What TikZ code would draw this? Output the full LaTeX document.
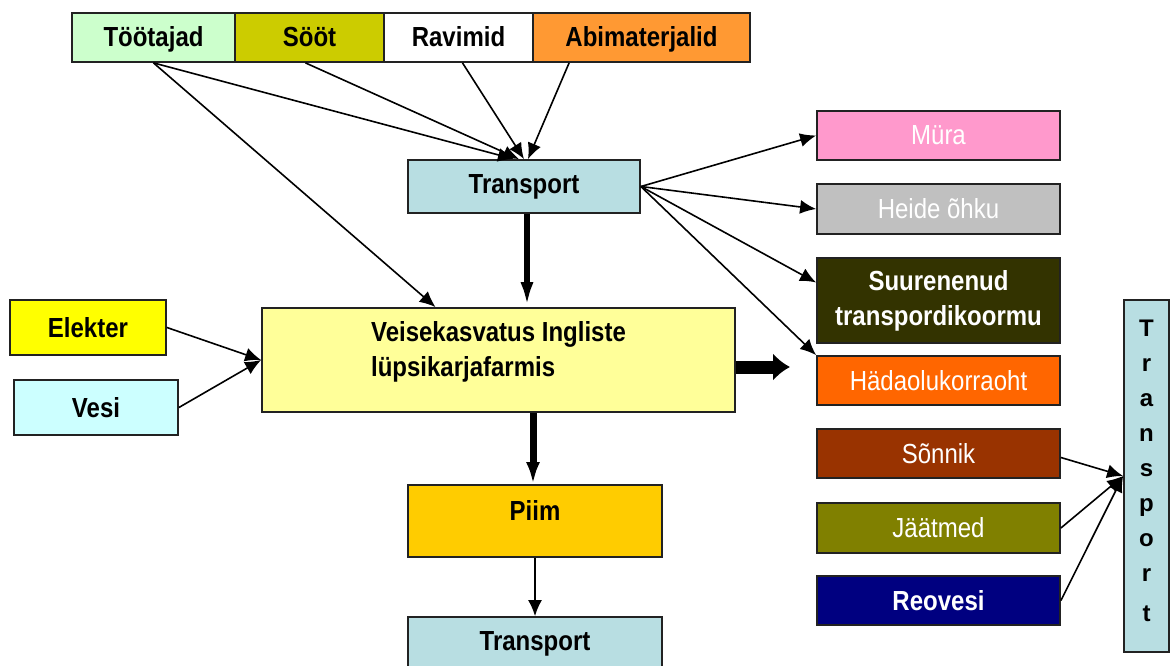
\documentclass[tikz,border=0pt]{standalone}
\usepackage{fontspec}
\setmainfont{Liberation Sans}
\usepackage{graphicx}
\usetikzlibrary{arrows.meta,calc}
\newcommand{\vs}[1]{\scalebox{1}[1.15]{#1}}
\definecolor{bordergray}{HTML}{222222}
\definecolor{tooc}{HTML}{CCFFCC}
\definecolor{sootc}{HTML}{CCCC00}
\definecolor{abic}{HTML}{FF9933}
\definecolor{trc}{HTML}{B8DEE2}
\definecolor{mainc}{HTML}{FFFF99}
\definecolor{elec}{HTML}{FFFF00}
\definecolor{vesic}{HTML}{CCFFFF}
\definecolor{piimc}{HTML}{FFCC00}
\definecolor{murac}{HTML}{FF99CC}
\definecolor{heidec}{HTML}{C0C0C0}
\definecolor{surc}{HTML}{333300}
\definecolor{hadc}{HTML}{FF6600}
\definecolor{sonc}{HTML}{993300}
\definecolor{jaac}{HTML}{808000}
\definecolor{reoc}{HTML}{000080}
\begin{document}
\begin{tikzpicture}[x=1pt,y=-1pt,
  box/.style={draw=bordergray,line width=1.8pt,inner sep=0pt,font=\fontsize{24}{35}\selectfont\bfseries},
  toprow/.style={box,minimum height=49pt,text height=20pt,text depth=1pt},
  lite/.style={box,font=\fontsize{24}{35}\selectfont,text=white},
  boldlite/.style={box,text=white},
  conn/.style={line width=1.6pt,-{Latex[length=16pt,width=14pt]}},
  ]
\useasboundingbox (0,0) rectangle (1170,666);
% top row
\node[toprow,fill=tooc,minimum width=163pt] (too) at (153.5,37.5) {\vs{Töötajad}};
\node[toprow,fill=sootc,minimum width=149pt] (soot) at (309.5,37.5) {\vs{Sööt}};
\node[toprow,fill=white,minimum width=149pt] (rav) at (458.5,37.5) {\vs{Ravimid}};
\node[toprow,fill=abic,minimum width=217pt] (abi) at (641.5,37.5) {\vs{Abimaterjalid}};
% transport top
\node[box,fill=trc,minimum width=232pt,minimum height=53pt] (tr1) at (524,186.5) {\vs{Transport}};
% main
\node[box,fill=mainc,minimum width=473pt,minimum height=104pt,align=left,text depth=22pt] (main) at (498.5,360) {\vs{Veisekasvatus Ingliste}\\\vs{lüpsikarjafarmis}};
% left
\node[box,fill=elec,minimum width=156pt,minimum height=55pt] (ele) at (88,327.5) {\vs{Elekter}};
\node[box,fill=vesic,minimum width=164pt,minimum height=55pt] (vesi) at (96,407.5) {\vs{Vesi}};
% bottom
\node[box,fill=piimc,minimum width=254pt,minimum height=72pt,text depth=22pt] (piim) at (535,521) {\vs{Piim}};
\node[box,fill=trc,minimum width=254pt,minimum height=53pt] (tr2) at (535,643.5) {\vs{Transport}};
% right column
\node[lite,fill=murac,minimum width=243pt,minimum height=49pt] (mura) at (938.5,135.5) {\vs{Müra}};
\node[lite,fill=heidec,minimum width=243pt,minimum height=50pt] (heide) at (938.5,209) {\vs{Heide õhku}};
\node[boldlite,fill=surc,minimum width=243pt,minimum height=85pt,align=center] (sur) at (938.5,300.5) {\vs{Suurenenud}\\\vs{transpordikoormu}};
\node[lite,fill=hadc,minimum width=243pt,minimum height=49pt] (had) at (938.5,380.5) {\vs{Hädaolukorraoht}};
\node[lite,fill=sonc,minimum width=243pt,minimum height=49pt] (son) at (938.5,453.5) {\vs{Sõnnik}};
\node[lite,fill=jaac,minimum width=243pt,minimum height=50pt] (jaa) at (938.5,528) {\vs{Jäätmed}};
\node[boldlite,fill=reoc,minimum width=243pt,minimum height=49pt] (reo) at (938.5,600.5) {\vs{Reovesi}};
% vertical transport
\node[box,fill=trc,minimum width=45pt,minimum height=352pt,align=center,text depth=10pt] (vt) at (1146.5,476) {T\\r\\a\\n\\s\\p\\o\\r\\[5pt]t};
% connectors
\draw[conn] (too.south) -- ($(tr1.north)+(-10,0)$);
\draw[conn] (too.south) -- ($(main.north)+(-63,0)$);
\draw[conn] ($(soot.south)+(-4,0)$) -- ($(tr1.north)+(-5,0)$);
\draw[conn] ($(rav.south)+(4,0)$) -- (tr1.north);
\draw[conn] ($(abi.south west)+(37,0)$) -- ($(tr1.north)+(4,0)$);
\draw[line width=5.5pt,-{Latex[length=25pt,width=13pt]}] ($(tr1.south)+(3,0)$) -- ($(tr1.south |- main.north)+(3,0)$);
\draw[conn] (tr1.east) -- (mura.west);
\draw[conn] (tr1.east) -- (heide.west);
\draw[conn] (tr1.east) -- ($(sur.west)+(0,-18)$);
\draw[conn] (tr1.east) -- (had.north west);
\coordinate (thk) at (790,367);
\draw[line width=13pt,-{Latex[length=17pt,width=28pt]}] (main.east |- thk) -- (thk);
\draw[conn] (ele.east) -- (main.west);
\draw[conn] (vesi.east) -- (main.west);
\draw[line width=7pt,-{Latex[length=22pt,width=14pt]}] ($(piim.north |- main.south)+(-2,0)$) -- ($(piim.north)+(-2,0)$);
\draw[conn] (piim.south) -- (tr2.north);
\draw[conn] ($(son.east)+(0,4)$) -- (vt.west);
\draw[conn] (jaa.east) -- (vt.west);
\draw[conn] (reo.east) -- (vt.west);
\end{tikzpicture}
\end{document}
